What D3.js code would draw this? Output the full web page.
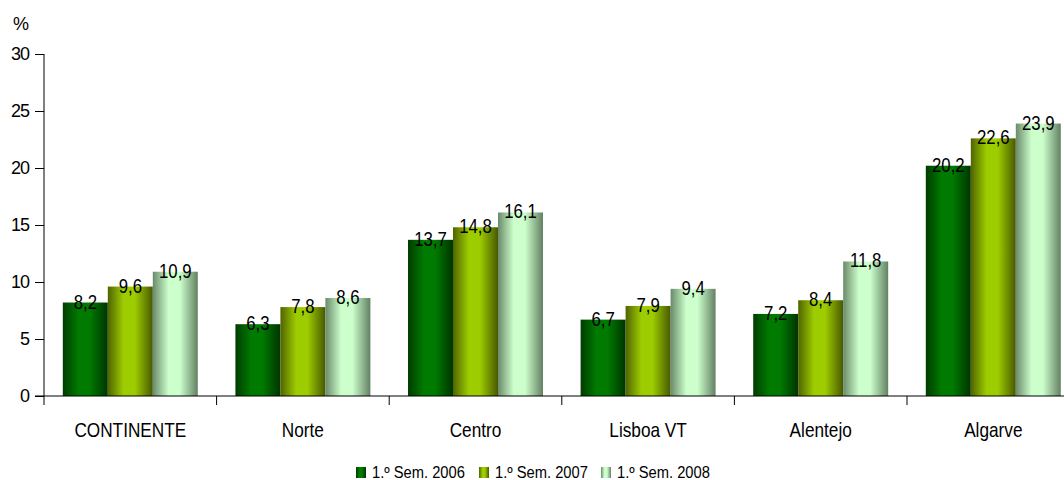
<!DOCTYPE html>
<html><head><meta charset="utf-8">
<script src="https://cdn.jsdelivr.net/npm/d3@7"></script>
<style>body{margin:0;background:#fff}svg{display:block;font-family:"Liberation Sans",Arial,sans-serif}</style>
</head><body><svg id="c" width="1064" height="480"></svg>
<script>
const categories = ["CONTINENTE","Norte","Centro","Lisboa VT","Alentejo","Algarve"];
const seriesNames = ["1.º Sem. 2006","1.º Sem. 2007","1.º Sem. 2008"];
const s2006 = [8.2,6.3,13.7,6.7,7.2,20.2];
const s2007 = [9.6,7.8,14.8,7.9,8.4,22.6];
const s2008 = [10.9,8.6,16.1,9.4,11.8,23.9];
const yTicks = [0,5,10,15,20,25,30];

const series = [s2006,s2007,s2008];
const palettes = [
  {edge:"#003c00", mid:"#007a00", edge2:"#003400"},
  {edge:"#506400", mid:"#9dcc00", edge2:"#485800"},
  {edge:"#6a8a6a", mid:"#ccffcc", edge2:"#638063"}
];
const svg = d3.select("#c");
const defs = svg.append("defs");
palettes.forEach((p,i)=>{
  const g = defs.append("linearGradient").attr("id","g"+i).attr("x1","0").attr("x2","1").attr("y1","0").attr("y2","0");
  g.append("stop").attr("offset","0").attr("stop-color",p.edge);
  g.append("stop").attr("offset","0.35").attr("stop-color",p.mid);
  g.append("stop").attr("offset","0.6").attr("stop-color",p.mid);
  g.append("stop").attr("offset","1").attr("stop-color",p.edge2);
});

function ntext(x, yy, str, size, sx, anchor){
  const g = svg.append("g").attr("transform",`translate(${x},${yy}) scale(${sx},1)`);
  g.append("text").attr("text-anchor",anchor||"middle").attr("font-size",size).attr("fill","#000").text(str);
  return g;
}

const x0 = d3.scaleBand().domain(categories).range([44,1079.6]).paddingInner(0.218).paddingOuter(0.109);
const x1 = d3.scaleBand().domain([0,1,2]).range([0,x0.bandwidth()]);
const y = d3.scaleLinear().domain([0,30]).range([396,54]);

// bars
categories.forEach((c,ci)=>{
  series.forEach((s,si)=>{
    svg.append("rect").attr("x",x0(c)+x1(si)).attr("y",y(s[ci]))
      .attr("width",x1.bandwidth()).attr("height",y(0)-y(s[ci]))
      .attr("fill","url(#g"+si+")");
  });
});
// labels
categories.forEach((c,ci)=>{
  series.forEach((s,si)=>{
    ntext(x0(c)+x1(si)+x1.bandwidth()/2, y(s[ci])+6, String(s[ci]).replace(".",","), 21, 0.8);
  });
});

// y axis
const ya = svg.append("g").attr("transform","translate(44,0)")
  .call(d3.axisLeft(y).tickValues(yTicks).tickSize(9).tickPadding(6));
ya.select(".domain").attr("d","M0,54V405").attr("stroke","#000");
ya.selectAll(".tick line").attr("stroke","#000");
ya.selectAll("text").attr("font-size",18).attr("font-family","'Liberation Sans',Arial,sans-serif").attr("letter-spacing","-1").attr("fill","#000");

// x axis line
svg.append("line").attr("x1",35).attr("x2",1064).attr("y1",396).attr("y2",396).attr("stroke","#000");
const bounds = d3.range(1,7).map(i=>x0.step()*i + 44);
bounds.forEach(b=>svg.append("line").attr("x1",b).attr("x2",b).attr("y1",396).attr("y2",405).attr("stroke","#000"));
categories.forEach(c=>{
  ntext(x0(c)+x0.bandwidth()/2, 437, c, 21, 0.82);
});
svg.append("text").attr("x",21).attr("y",30).attr("text-anchor","middle").attr("font-size",18).text("%");

// legend
const legX = [356,479,601];
seriesNames.forEach((n,i)=>{
  svg.append("rect").attr("x",legX[i]).attr("y",467).attr("width",10).attr("height",11).attr("fill","url(#g"+i+")");
  ntext(legX[i]+16, 478, n, 16, 0.92, "start");
});
</script></body></html>
